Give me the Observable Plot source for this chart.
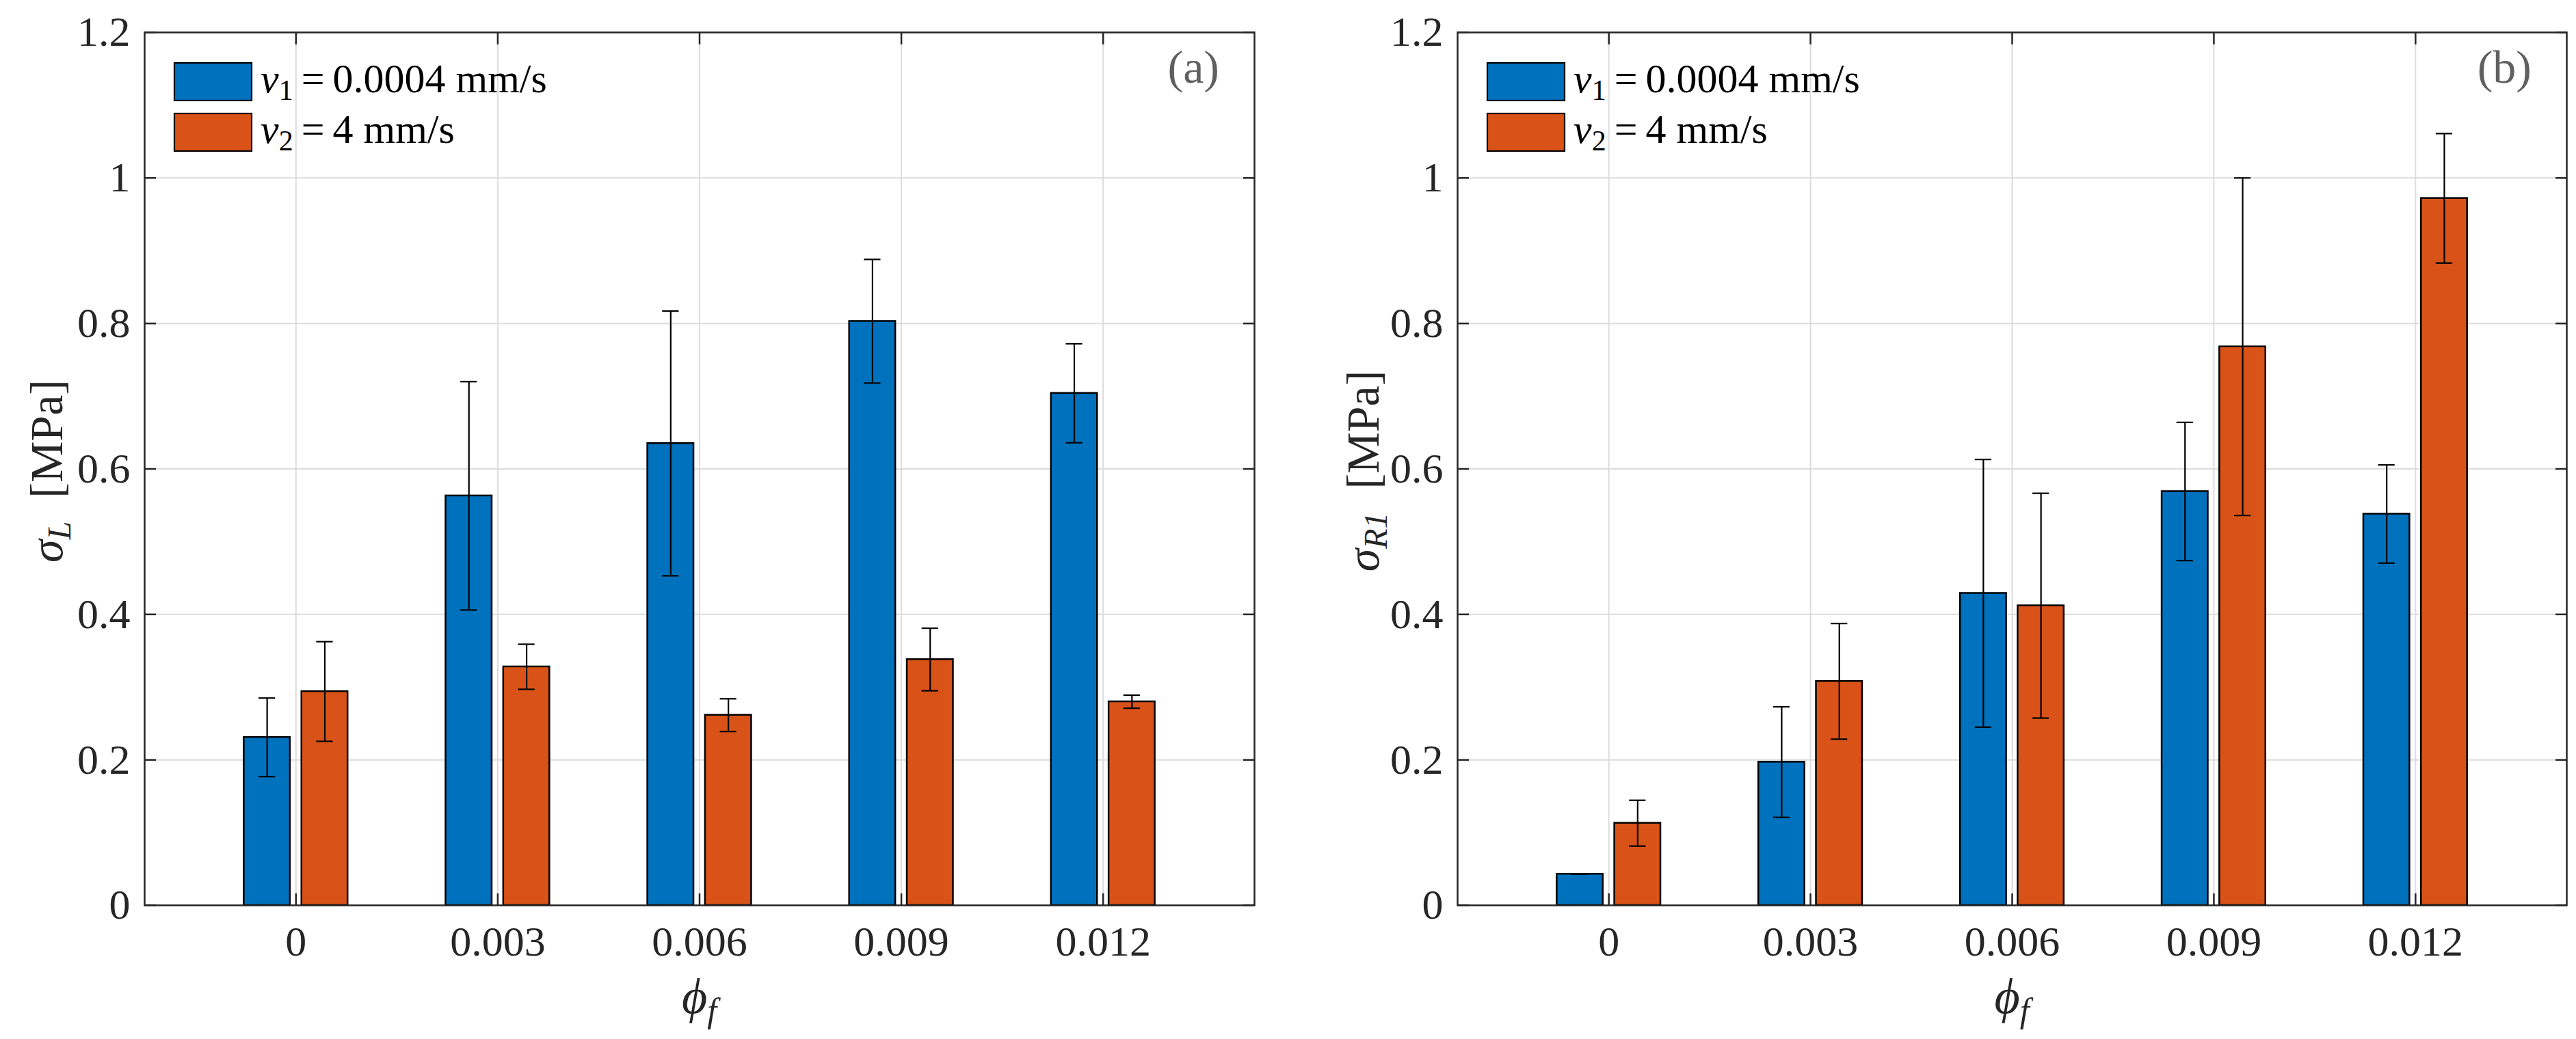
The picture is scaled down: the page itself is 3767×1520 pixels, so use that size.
<!DOCTYPE html>
<html><head><meta charset="utf-8">
<script src="https://cdn.jsdelivr.net/npm/d3@7"></script>
<script src="https://cdn.jsdelivr.net/npm/@observablehq/plot@0.6"></script>
<style>
html,body{margin:0;padding:0;background:#fff;}
#wrap{display:flex;width:3767px;height:1520px;overflow:hidden;}
#wrap svg{flex:none;max-width:none !important;}
</style></head><body><div id="wrap"></div>
<script>
// ---- data ----
const categories = ["0", "0.003", "0.006", "0.009", "0.012"];
const seriesNames = ["v1 = 0.0004 mm/s", "v2 = 4 mm/s"];
const yTickValues = [0, 0.2, 0.4, 0.6, 0.8, 1, 1.2];

// panel (a): sigma_L [MPa]
const sigmaL_v1 = [0.231, 0.563, 0.635, 0.803, 0.704];
const sigmaL_v1_err = [0.054, 0.157, 0.182, 0.085, 0.068];
const sigmaL_v2 = [0.294, 0.328, 0.2615, 0.338, 0.280];
const sigmaL_v2_err = [0.0685, 0.031, 0.0225, 0.043, 0.009];

// panel (b): sigma_R1 [MPa]
const sigmaR1_v1 = [0.043, 0.197, 0.429, 0.569, 0.538];
const sigmaR1_v1_err = [0, 0.076, 0.184, 0.095, 0.0675];
const sigmaR1_v2 = [0.113, 0.308, 0.412, 0.768, 0.972];
const sigmaR1_v2_err = [0.0315, 0.0795, 0.1545, 0.232, 0.089];

// ---- styling ----
const blue = "#0072BD", orange = "#D95319";
const ink = "#262626";
const H = 1520;
const groupOffset = 0.1429, barW = 0.2286, capW = 0.082;
const FONT = "'Liberation Serif', 'DejaVu Serif', serif";

function panel({v1, e1, v2, e2, ySub, tag, width, marginLeft, marginRight, ylabelX}) {
  const rows = [];
  categories.forEach((c, i) => {
    rows.push({i: i + 1, s: 0, v: v1[i], e: e1[i]});
    rows.push({i: i + 1, s: 1, v: v2[i], e: e2[i]});
  });
  const xTicks = categories.map((c, i) => i + 1);
  const xc = d => d.i + (d.s === 0 ? -groupOffset : groupOffset);
  const svg = Plot.plot({
    width, height: H, marginLeft, marginRight, marginTop: 47, marginBottom: 196,
    x: {domain: [0.25, 5.75], label: null},
    y: {domain: [0, 1.2], label: null},
    color: {domain: seriesNames, range: [blue, orange]},
    style: {fontFamily: FONT, fontSize: "62px", color: ink, background: "#fff", overflow: "visible"},
    marks: [
      Plot.gridY(yTickValues, {stroke: "#dcdcdc", strokeOpacity: 1, strokeWidth: 2}),
      Plot.gridX(xTicks, {stroke: "#dcdcdc", strokeOpacity: 1, strokeWidth: 2}),
      Plot.rectY(rows, {
        x1: d => xc(d) - barW / 2, x2: d => xc(d) + barW / 2, y1: 0, y2: "v",
        fill: d => seriesNames[d.s], stroke: "#000", strokeWidth: 2.5
      }),
      Plot.ruleX(rows, {x: xc, y1: d => d.v - d.e, y2: d => d.v + d.e, stroke: "#000", strokeWidth: 2.2}),
      Plot.ruleY(rows, {y: d => d.v + d.e, x1: d => xc(d) - capW / 2, x2: d => xc(d) + capW / 2, stroke: "#000", strokeWidth: 2.2}),
      Plot.ruleY(rows, {y: d => d.v - d.e, x1: d => xc(d) - capW / 2, x2: d => xc(d) + capW / 2, stroke: "#000", strokeWidth: 2.2}),
      Plot.frame({stroke: ink, strokeWidth: 2.5}),
      Plot.axisX(xTicks, {anchor: "bottom", tickSize: -17, tickPadding: 46, tickFormat: d => categories[d - 1], label: null, stroke: ink, strokeWidth: 2.5, fill: ink, fontSize: 62}),
      Plot.axisX(xTicks, {anchor: "top", tickSize: -17, tickFormat: () => "", label: null, stroke: ink, strokeWidth: 2.5}),
      Plot.axisY(yTickValues, {anchor: "left", tickSize: -17, tickPadding: 38, tickFormat: d => String(+d.toFixed(1)), label: null, stroke: ink, strokeWidth: 2.5, fill: ink, fontSize: 62}),
      Plot.axisY(yTickValues, {anchor: "right", tickSize: -17, tickFormat: () => "", label: null, stroke: ink, strokeWidth: 2.5})
    ]
  });
  const s = d3.select(svg);
  const plotRight = width - marginRight;
  const cx = (marginLeft + plotRight) / 2;

  // y label
  const yl = s.append("text")
    .attr("transform", `translate(${ylabelX},689) rotate(-90)`)
    .attr("text-anchor", "middle").attr("fill", ink)
    .style("font-size", "68px").style("font-family", FONT);
  yl.append("tspan").attr("font-style", "italic").text("σ");
  yl.append("tspan").attr("font-style", "italic").attr("font-size", "48px").attr("dy", 12).text(ySub);
  yl.append("tspan").attr("dy", -12).text("\u2002[MPa]");

  // x label
  const xl = s.append("text")
    .attr("x", cx).attr("y", 1482).attr("text-anchor", "middle").attr("fill", ink)
    .style("font-size", "72px").style("font-family", FONT);
  xl.append("tspan").attr("font-style", "italic").text("ϕ");
  xl.append("tspan").attr("font-style", "italic").attr("font-size", "50px").attr("dy", 13).text("f");

  // legend (inside the axes, no box)
  const legend = [
    {sub: "1", rest: "\u2009=\u20090.0004 mm/s", y: 92},
    {sub: "2", rest: "\u2009=\u20094 mm/s", y: 166}
  ];
  legend.forEach((L, k) => {
    s.append("rect").attr("x", marginLeft + 44).attr("y", L.y).attr("width", 113).attr("height", 55)
      .attr("fill", k === 0 ? blue : orange).attr("stroke", "#000").attr("stroke-width", 2.2);
    const t = s.append("text").attr("x", marginLeft + 170).attr("y", L.y + 43)
      .attr("text-anchor", "start")
      .attr("fill", "#000").style("font-size", "60px").style("font-family", FONT);
    t.append("tspan").attr("font-style", "italic").text("v");
    t.append("tspan").attr("font-size", "42px").attr("dy", 11).text(L.sub);
    t.append("tspan").attr("dy", -11).text(L.rest);
  });

  // panel tag
  s.append("text").attr("x", plotRight - 51).attr("y", 121).attr("text-anchor", "end")
    .attr("fill", "#606060").style("font-size", "68px").style("font-family", FONT).text(tag);
  return svg;
}

const wrap = document.getElementById("wrap");
wrap.appendChild(panel({v1: sigmaL_v1, e1: sigmaL_v1_err, v2: sigmaL_v2, e2: sigmaL_v2_err,
  ySub: "L", tag: "(a)", width: 1883, marginLeft: 211, marginRight: 49, ylabelX: 91}));
wrap.appendChild(panel({v1: sigmaR1_v1, e1: sigmaR1_v1_err, v2: sigmaR1_v2, e2: sigmaR1_v2_err,
  ySub: "R1", tag: "(b)", width: 1884, marginLeft: 248, marginRight: 14, ylabelX: 133}));
</script></body></html>
